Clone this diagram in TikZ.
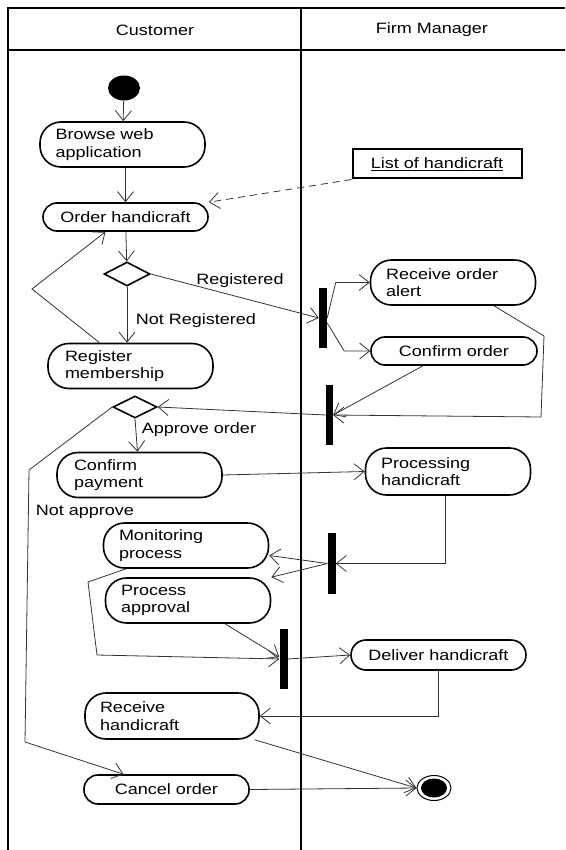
\documentclass[tikz,border=0pt]{standalone}
\usepackage{fontspec}
\setmainfont[FakeStretch=1.2]{Liberation Sans}
\usetikzlibrary{arrows.meta,shapes.geometric,calc}
\tikzset{
lane/.style={line width=2.2pt},
arr/.style={-{Straight Barb[length=10pt,width=16pt]},line width=0.8pt,draw=black!80},
dasharr/.style={arr,dash pattern=on 7pt off 5pt},
action/.style={draw,line width=1.6pt,rounded corners=14pt,minimum width=165pt,minimum height=28pt,inner sep=0pt},
action2/.style={action,rounded corners=21pt,minimum height=45pt,text width=134pt,align=left,inner xsep=15pt},
bar/.style={fill=black,minimum width=8pt,minimum height=60pt,inner sep=0pt},
decision/.style={diamond,draw,line width=1.6pt,minimum width=46pt,minimum height=24pt,inner sep=0pt},
object/.style={draw,line width=2pt,minimum width=169pt,minimum height=29pt,inner sep=0pt},
}
\tikzstyle{every node}=[font=\fontsize{15}{17.5}\selectfont]

\begin{document}
\begin{tikzpicture}[x=1pt,y=-1pt]
        \useasboundingbox (0,0) rectangle (565,850);
        \draw[lane] (8,850) -- (8,8) -- (565,8);
        \draw[lane] (8,50) -- (565,50);
        \draw[lane] (301,8) -- (301,850);
        \node (cust) at (155,30) {Customer};
        \node (firm) at (432,30) {Firm Manager};

        \node[ellipse,fill=black,minimum width=32pt,minimum height=25pt,inner sep=0pt] (start) at (124,88) {};
        \node[action2] (browse) at (122.5,144.5) {Browse web\\application};
        \node[action] (order) at (125.5,217) {Order handicraft};
        \node[object] (list) at (437,164) {\underline{List of handicraft}};
        \node[decision] (d1) at (127,274) {};
        \node[bar] (fork1) at (323,318) {};
        \node[action2] (recv) at (453,282.5) {Receive order\\alert};
        \node[action,minimum width=166pt] (confirm) at (454,351) {Confirm order};
        \node[action2,text width=131pt,inner xsep=15pt] (register) at (130.5,366) {Register\\membership};
        \node[bar,minimum width=7pt] (join2) at (329.5,415) {};
        \node[decision,minimum width=44pt,minimum height=22pt] (d2) at (135,407) {};
        \node[action2,text width=131pt] (payment) at (139.5,475) {Confirm\\payment};
        \node[action2,minimum height=47pt] (processing) at (448,471.5) {Processing\\handicraft};
        \node[action2] (monitor) at (186,545.5) {Monitoring\\process};
        \node[bar,minimum height=61pt] (fork3) at (331.5,563.5) {};
        \node[action2] (approval) at (188,600.5) {Process\\approval};
        \node[bar] (join4) at (283.5,659) {};
        \node[action,minimum width=175pt,minimum height=30pt,rounded corners=15pt] (deliver) at (438.5,655) {Deliver handicraft};
        \node[action2,text width=144pt,minimum height=46pt] (receive) at (172,716) {Receive\\handicraft};
        \node[action,minimum height=29pt] (cancel) at (166.5,789.5) {Cancel order};
        \node[ellipse,draw,line width=1pt,minimum width=34pt,minimum height=25pt,inner sep=0pt] (endn) at (434,788) {};
        \node[ellipse,fill=black,minimum width=26pt,minimum height=19pt,inner sep=0pt] (endin) at (endn) {};

        \node (lblreg) at (240,281) {Registered};
        \node (lblnotreg) at (196,321) {Not Registered};
        \node (lblapprove) at (199,430) {Approve order};
        \node (lblnotapprove) at (85,512) {Not approve};

        \coordinate (regbend) at (32,289);
        \coordinate (alertA) at (544,336);
        \coordinate (alertB) at (541,417);
        \coordinate (cancelA) at (29,470);
        \coordinate (cancelB) at (25,742);
        \coordinate (monA) at (88,582);
        \coordinate (monB) at (97,655);

        \draw[arr] (start) -- (browse);
        \draw[arr] (browse.south -| order) -- (order.north);
        \draw[dasharr] (list.south west) -- (order.north east);
        \draw[arr] (order) -- (d1);
        \draw[arr] (d1.east) -- (fork1.west);
        \draw[arr] (d1.south) -- (d1.south |- register.north);
        \draw[arr] ([xshift=-31pt]register.north) -- (regbend) -- ([xshift=-20pt]order.south);
        \draw[arr] (fork1.east) -- ([xshift=-34pt]recv.west) -- (recv.west);
        \draw[arr] ([yshift=-5pt]fork1.east) -- ([xshift=-26pt]confirm.west) -- (confirm.west);
        \draw[arr] ([xshift=41pt]recv.south) -- (alertA) -- (alertB) -- (join2.east);
        \draw[arr] ([xshift=-31pt]confirm.south) -- (join2.east);
        \draw[arr] (join2.west) -- (d2.east);
        \draw[arr] (d2.south) -- ([xshift=-2pt]payment.north);
        \draw[arr] (d2.west) -- (cancelA) -- (cancelB) -- ([xshift=-43pt]cancel.north);
        \draw[arr] (payment.east) -- (processing.west);
        \draw[arr] ([xshift=-3pt]processing.south) |- (fork3.east);
        \draw[arr] (fork3.west) -- ([yshift=-10pt]monitor.east);
        \draw[arr] (fork3.west) -- (approval.north east);
        \draw[arr] ([xshift=-60pt]monitor.south) -- (monA) -- (monB) -- (join4.west);
        \draw[arr] ([xshift=37pt]approval.south) -- ([yshift=2pt]join4.west);
        \draw[arr] (join4.east) -- (deliver.west);
        \draw[arr] (deliver.south) |- (receive.east);
        \draw[arr] ([xshift=-5pt]receive.south east) -- (endn.west);
        \draw[arr] (cancel.east) -- (endn.west);
    \end{tikzpicture}
\end{document}
